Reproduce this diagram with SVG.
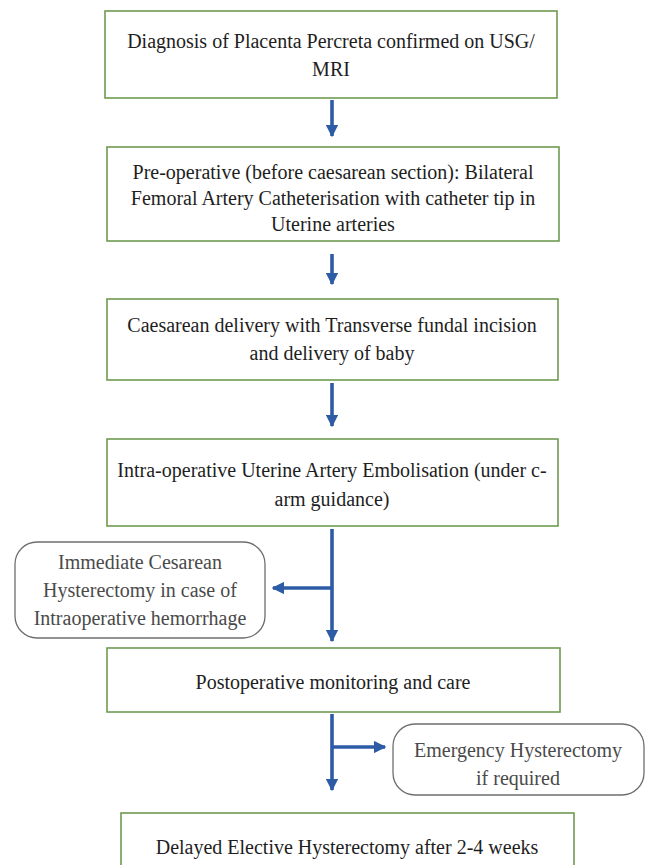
<svg xmlns="http://www.w3.org/2000/svg" width="655" height="865" viewBox="0 0 655 865">
<defs>
<style>
.box{fill:#fff;stroke:#6f9a50;stroke-width:1.6}
.rbox{fill:#fff;stroke:#6e6e6e;stroke-width:1.3}
.t{font-family:'Liberation Serif','Times New Roman',serif;font-size:20px;fill:#1e1e1e;text-anchor:middle}
.g{font-family:'Liberation Serif','Times New Roman',serif;font-size:20px;fill:#4a4a4a;text-anchor:middle}
.c{stroke:#2d5ba6;stroke-width:3.6;fill:none}
</style>
<marker id="ah" viewBox="0 0 10 10" refX="9" refY="5" markerWidth="3.5" markerHeight="3.5" orient="auto" markerUnits="strokeWidth">
<path d="M0,0 L10,5 L0,10 z" fill="#2d5ba6"/>
</marker>
</defs>
<rect width="655" height="865" fill="#fff"/>
<g id="connectors">
<line class="c" x1="332" y1="100" x2="332" y2="136" marker-end="url(#ah)"/>
<line class="c" x1="332" y1="254" x2="332" y2="284" marker-end="url(#ah)"/>
<line class="c" x1="332" y1="383" x2="332" y2="426" marker-end="url(#ah)"/>
<line class="c" x1="332" y1="529" x2="332" y2="641" marker-end="url(#ah)"/>
<line class="c" x1="332" y1="588" x2="273" y2="588" marker-end="url(#ah)"/>
<line class="c" x1="332" y1="714" x2="332" y2="790" marker-end="url(#ah)"/>
<line class="c" x1="332" y1="747" x2="385" y2="747" marker-end="url(#ah)"/>
</g>
<g id="n1">
<rect class="box" x="105" y="11" width="452" height="87"/>
<text class="t" x="331" y="48">Diagnosis of Placenta Percreta confirmed on USG/</text>
<text class="t" x="331" y="76">MRI</text>
</g>
<g id="n2">
<rect class="box" x="107" y="147" width="452" height="94"/>
<text class="t" x="333" y="179">Pre-operative (before caesarean section): Bilateral</text>
<text class="t" x="333" y="205">Femoral Artery Catheterisation with catheter tip in</text>
<text class="t" x="333" y="231">Uterine arteries</text>
</g>
<g id="n3">
<rect class="box" x="107" y="299" width="451" height="81"/>
<text class="t" x="332" y="332">Caesarean delivery with Transverse fundal incision</text>
<text class="t" x="332" y="360">and delivery of baby</text>
</g>
<g id="n4">
<rect class="box" x="107" y="439" width="451" height="87"/>
<text class="t" x="332" y="477">Intra-operative Uterine Artery Embolisation (under c-</text>
<text class="t" x="332" y="506">arm guidance)</text>
</g>
<g id="n5">
<rect class="rbox" x="15" y="542" width="250" height="96" rx="22"/>
<text class="g" x="140" y="569">Immediate Cesarean</text>
<text class="g" x="140" y="597">Hysterectomy in case of</text>
<text class="g" x="140" y="625">Intraoperative hemorrhage</text>
</g>
<g id="n6">
<rect class="box" x="107" y="648" width="453" height="64"/>
<text class="t" x="333" y="689">Postoperative monitoring and care</text>
</g>
<g id="n7">
<rect class="rbox" x="393" y="724" width="251" height="71" rx="22"/>
<text class="g" x="518" y="757">Emergency Hysterectomy</text>
<text class="g" x="518" y="785">if required</text>
</g>
<g id="n8">
<rect class="box" x="121" y="813" width="453" height="60"/>
<text class="t" x="347" y="854">Delayed Elective Hysterectomy after 2-4 weeks</text>
</g>
</svg>
